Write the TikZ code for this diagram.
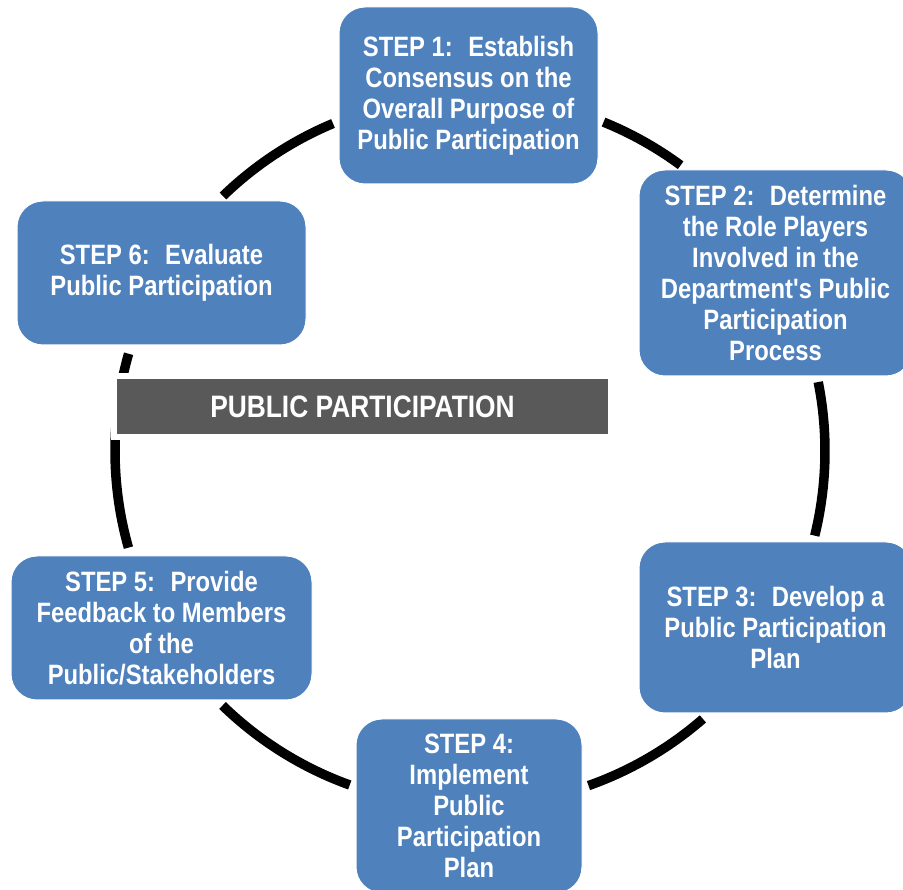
\documentclass[tikz,border=0pt]{standalone}
\usepackage{fontspec}
\setmainfont{Liberation Sans}[FakeStretch=0.85, Ligatures=TeXOff]
\definecolor{stepblue}{HTML}{4F81BD}
\definecolor{bargray}{HTML}{595959}
\begin{document}
\begin{tikzpicture}[x=1pt,y=1pt,
  stepbox/.style={fill=stepblue, draw=white, line width=1pt, rounded corners=26pt,
    text=white, align=center, inner sep=0pt,
    font=\fontsize{28}{31}\selectfont\bfseries},
  ring/.style={line width=9.5pt, black, line cap=butt},
  titlebar/.style={fill=bargray, preaction={draw=white, line width=12pt}, text=white, inner sep=0pt,
    font=\fontsize{31}{34}\selectfont\bfseries}]
\useasboundingbox (0,0) rectangle (903,890);
\coordinate (c) at (470,439);
% ring segments
\draw[ring] (c) ++(67.9:355) arc[start angle=67.9, end angle=53.6, radius=355];
\draw[ring] (c) ++(11.2:355) arc[start angle=11.2, end angle=-13.8, radius=355];
\draw[ring] (c) ++(-49.0:355) arc[start angle=-49.0, end angle=-70.5, radius=355];
\draw[ring] (c) ++(-109.8:355) arc[start angle=-109.8, end angle=-134.2, radius=355];
\draw[ring] (c) ++(164.1:355) arc[start angle=164.1, end angle=195.8, radius=355];
\draw[ring] (c) ++(134.1:355) arc[start angle=134.1, end angle=112.7, radius=355];
% steps
\node[stepbox, minimum width=259pt, minimum height=177pt] (s1) at (468.5,794.5)
  {STEP 1:~ Establish\\Consensus on the\\Overall Purpose of\\Public Participation};
\node[stepbox, minimum width=273pt, minimum height=206pt] (s2) at (775.5,617)
  {STEP 2:~ Determine\\the Role Players\\Involved in the\\Department's Public\\Participation\\Process};
\node[stepbox, minimum width=273pt, minimum height=171pt] (s3) at (775.5,262.5)
  {STEP 3:~ Develop a\\Public Participation\\Plan};
\node[stepbox, minimum width=226pt, minimum height=174pt] (s4) at (469,84)
  {STEP 4:\\Implement\\Public\\Participation\\Plan};
\node[stepbox, minimum width=301pt, minimum height=144pt] (s5) at (161.5,262)
  {STEP 5:~ Provide\\Feedback to Members\\of the\\Public/Stakeholders};
\node[stepbox, minimum width=289pt, minimum height=144pt] (s6) at (161.5,617)
  {STEP 6:~ Evaluate\\Public Participation};
% central title
\node[titlebar, minimum width=491pt, minimum height=55pt] (title) at (362.5,483.5)
  {PUBLIC PARTICIPATION};
\end{tikzpicture}
\end{document}
